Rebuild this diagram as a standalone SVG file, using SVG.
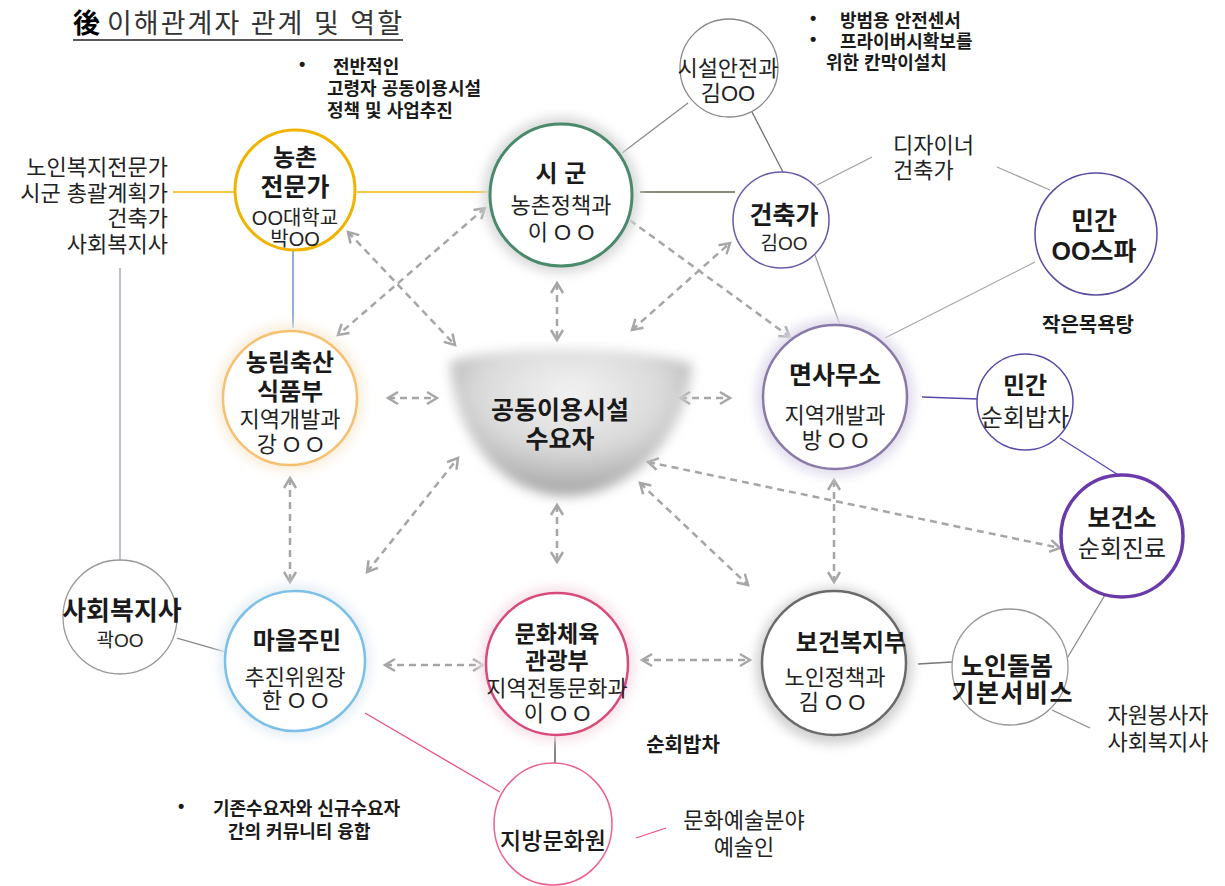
<svg xmlns="http://www.w3.org/2000/svg" width="1225" height="886" viewBox="0 0 1225 886">
<style>
text{font-family:"Liberation Sans","Noto Sans CJK KR",sans-serif;fill:#1a1a1a;text-anchor:middle}
.t{font-size:24px;font-weight:700}
.s{font-size:22px;font-weight:400;fill:#222}
.b{font-size:18px;font-weight:700;text-anchor:start}
.l{font-size:22px;fill:#222}
.node{fill:#fff}
.dash{stroke:#a6a6a6;stroke-width:2.5;stroke-dasharray:7 5;fill:none;marker-start:url(#ah);marker-end:url(#ah)}
.ln{fill:none;stroke-width:1.3}
</style>
<defs>
<marker id="ah" markerUnits="userSpaceOnUse" markerWidth="16" markerHeight="16" refX="13" refY="8" orient="auto-start-reverse">
<path d="M3,2 L13,8 L3,14" fill="none" stroke="#a6a6a6" stroke-width="2.5"/>
</marker>
<filter id="glow" x="-30%" y="-30%" width="160%" height="160%"><feGaussianBlur stdDeviation="6"/></filter>
<filter id="soft" x="-20%" y="-20%" width="140%" height="140%"><feGaussianBlur stdDeviation="6"/></filter>
<radialGradient id="bowl" cx="0.5" cy="0.3" r="0.75">
<stop offset="0" stop-color="#f2f2f2"/>
<stop offset="0.5" stop-color="#dadada"/>
<stop offset="1" stop-color="#9c9c9c"/>
</radialGradient>
</defs>
<rect width="1225" height="886" fill="#fff"/>

<g id="title">
<text x="73" y="33" style="font-size:27px;font-weight:700;text-anchor:start;fill:#000">後</text>
<text x="107" y="33" textLength="295" lengthAdjust="spacing" style="font-size:27px;text-anchor:start;fill:#333">이해관계자 관계 및 역할</text>
<line x1="73" y1="40" x2="403" y2="40" stroke="#222" stroke-width="1.5"/>
</g>
<g id="notes">
<text x="299" y="70" class="b">•</text>
<text x="333" y="73" class="b">전반적인</text>
<text x="327" y="95" class="b">고령자 공동이용시설</text>
<text x="327" y="117" class="b">정책 및 사업추진</text>
<text x="810" y="24" class="b">•</text>
<text x="840" y="27" class="b">방범용 안전센서</text>
<text x="810" y="45" class="b">•</text>
<text x="840" y="48" class="b">프라이버시확보를</text>
<text x="826" y="69" class="b">위한 칸막이설치</text>
<text x="178" y="812" class="b">•</text>
<text x="213" y="815" class="b">기존수요자와 신규수요자</text>
<text x="228" y="838" class="b">간의 커뮤니티 융합</text>
<text x="1088" y="332" class="b" style="text-anchor:middle;font-size:20px">작은목욕탕</text>
<text x="683" y="752" class="b" style="text-anchor:middle;font-size:20px">순회밥차</text>
<text x="168" y="175" class="l" style="text-anchor:end">노인복지전문가</text>
<text x="168" y="201" class="l" style="text-anchor:end">시군 총괄계획가</text>
<text x="168" y="226" class="l" style="text-anchor:end">건축가</text>
<text x="168" y="252" class="l" style="text-anchor:end">사회복지사</text>
<text x="893" y="153" class="l" style="text-anchor:start">디자이너</text>
<text x="893" y="178" class="l" style="text-anchor:start">건축가</text>
<text x="1158" y="723" class="l">자원봉사자</text>
<text x="1158" y="750" class="l">사회복지사</text>
<text x="744" y="828" class="l">문화예술분야</text>
<text x="744" y="855" class="l">예술인</text>
</g>

<g id="connectors">
<line class="ln" x1="173" y1="192" x2="234" y2="192" stroke="#f0b400" stroke-width="2"/>
<line class="ln" x1="357" y1="192" x2="490" y2="192" stroke="#f0b400" stroke-width="2"/>
<line class="ln" x1="640" y1="192" x2="735" y2="192" stroke="#5e6650" stroke-width="1.6"/>
<line class="ln" x1="622" y1="153" x2="688" y2="103" stroke="#8a8a8a"/>
<line class="ln" x1="752" y1="112" x2="783" y2="172" stroke="#707070"/>
<line class="ln" x1="817" y1="185" x2="872" y2="157" stroke="#a0a0a0"/>
<line class="ln" x1="997" y1="167" x2="1050" y2="190" stroke="#a0a0a0"/>
<line class="ln" x1="815" y1="255" x2="840" y2="325" stroke="#a0a0a0"/>
<line class="ln" x1="1035" y1="262" x2="885" y2="338" stroke="#a8a8a8"/>
<line class="ln" x1="922" y1="397" x2="978" y2="399" stroke="#5548b0" stroke-width="1.8"/>
<line class="ln" x1="1060" y1="438" x2="1120" y2="476" stroke="#5548b0" stroke-width="1.5"/>
<line class="ln" x1="1105" y1="595" x2="1066" y2="660" stroke="#8a8a8a"/>
<line class="ln" x1="918" y1="664" x2="952" y2="662" stroke="#777"/>
<line class="ln" x1="1052" y1="710" x2="1090" y2="728" stroke="#8a8a8a"/>
<line class="ln" x1="293" y1="250" x2="293" y2="328" stroke="#5a80c0" stroke-width="1.5"/>
<line class="ln" x1="120" y1="268" x2="120" y2="560" stroke="#9aa0b0"/>
<line class="ln" x1="177" y1="638" x2="226" y2="652" stroke="#8a8a8a"/>
<line class="ln" x1="365" y1="713" x2="500" y2="792" stroke="#e85080" stroke-width="1.6"/>
<line class="ln" x1="555" y1="735" x2="555" y2="767" stroke="#444"/>
<line class="ln" x1="636" y1="838" x2="666" y2="828" stroke="#e85080" stroke-width="1.6"/>

<line class="dash" x1="348" y1="232" x2="455" y2="345"/>
<line class="dash" x1="485" y1="208" x2="338" y2="335"/>
<line class="dash" x1="557" y1="283" x2="557" y2="340"/>
<line class="dash" x1="632" y1="330" x2="730" y2="243"/>
<line class="dash" x1="620" y1="213" x2="790" y2="337"/>
<line class="dash" x1="388" y1="398" x2="437" y2="398"/>
<line class="dash" x1="680" y1="398" x2="730" y2="398"/>
<line class="dash" x1="290" y1="478" x2="290" y2="582"/>
<line class="dash" x1="367" y1="572" x2="458" y2="458"/>
<line class="dash" x1="557" y1="505" x2="557" y2="562"/>
<line class="dash" x1="640" y1="483" x2="748" y2="585"/>
<line class="dash" x1="648" y1="462" x2="1060" y2="548"/>
<line class="dash" x1="834" y1="480" x2="834" y2="582"/>
<line class="dash" x1="385" y1="665" x2="483" y2="665"/>
<line class="dash" x1="642" y1="660" x2="750" y2="660"/>
</g>

<g id="n-center">
<path d="M450 362 C 500 344, 630 344, 692 364 C 690 422, 642 494, 568 496 C 498 496, 453 432, 450 362 Z" fill="url(#bowl)" filter="url(#soft)"/>
<text x="560" y="419" style="font-size:25px;font-weight:600">공동이용시설</text>
<text x="560" y="448" style="font-size:25px;font-weight:600">수요자</text>
</g>
<g id="n-nongchon">
<circle cx="295" cy="190" r="60" class="node" stroke="#f0b400" stroke-width="3"/>
<text x="295" y="166" class="t">농촌</text>
<text x="295" y="196" class="t" style="font-size:25px">전문가</text>
<text x="295" y="225" class="s" style="font-size:20px">OO대학교</text>
<text x="295" y="246" class="s" style="font-size:20px">박OO</text>
</g>
<g id="n-sigun">
<circle cx="561" cy="195" r="78" fill="#d8d8d8" filter="url(#glow)"/>
<circle cx="561" cy="195" r="71" class="node" stroke="#4a8a6a" stroke-width="3"/>
<text x="561" y="182" class="t">시 군</text>
<text x="561" y="213" class="s">농촌정책과</text>
<text x="561" y="240" class="s">이 O O</text>
</g>
<g id="n-safety">
<circle cx="729" cy="68" r="49" class="node" stroke="#888" stroke-width="1.3"/>
<text x="728" y="76" class="s">시설안전과</text>
<text x="728" y="101" class="s">김OO</text>
</g>
<g id="n-architect">
<circle cx="781" cy="220" r="48" class="node" stroke="#6a5aa8" stroke-width="1.5"/>
<text x="784" y="224" class="t" style="font-size:25px">건축가</text>
<text x="784" y="250" class="s" style="font-size:19px">김OO</text>
</g>
<g id="n-spa">
<circle cx="1096" cy="234" r="61" class="node" stroke="#5a4aa0" stroke-width="1.5"/>
<text x="1094" y="230" class="t" style="font-size:25px">민간</text>
<text x="1094" y="260" class="t" style="font-size:25px">OO스파</text>
</g>
<g id="n-myeon">
<circle cx="835" cy="397" r="79" fill="#e0dcec" filter="url(#glow)"/>
<circle cx="835" cy="397" r="72" class="node" stroke="#8a7aa8" stroke-width="2.5"/>
<text x="835" y="384" class="t" style="font-size:25px">면사무소</text>
<text x="835" y="423" class="s">지역개발과</text>
<text x="835" y="448" class="s">방 O O</text>
</g>
<g id="n-meal">
<circle cx="1025" cy="402" r="48" class="node" stroke="#5a4aa8" stroke-width="1.5"/>
<text x="1025" y="394" class="t">민간</text>
<text x="1025" y="426" class="s" style="font-size:24px">순회밥차</text>
</g>
<g id="n-health">
<circle cx="1122" cy="536" r="61" class="node" stroke="#6a3aaa" stroke-width="3.5"/>
<text x="1122" y="527" class="t" style="font-size:25px">보건소</text>
<text x="1122" y="557" class="s" style="font-size:24px">순회진료</text>
</g>
<g id="n-agri">
<circle cx="290" cy="398" r="73" fill="#f8ecd8" filter="url(#glow)"/>
<circle cx="290" cy="398" r="67" class="node" stroke="#f5c070" stroke-width="2.5"/>
<text x="290" y="371" class="t">농림축산</text>
<text x="290" y="400" class="t">식품부</text>
<text x="290" y="427" class="s">지역개발과</text>
<text x="290" y="452" class="s">강 O O</text>
</g>
<g id="n-social">
<circle cx="120" cy="617" r="57" class="node" stroke="#999" stroke-width="1.3"/>
<text x="122" y="620" class="t" style="font-size:26px">사회복지사</text>
<text x="120" y="647" class="s" style="font-size:19px">곽OO</text>
</g>
<g id="n-village">
<circle cx="295" cy="661" r="76" fill="#e4eef4" filter="url(#glow)"/>
<circle cx="295" cy="661" r="70" class="node" stroke="#7cc0e8" stroke-width="2.5"/>
<text x="297" y="649" class="t">마을주민</text>
<text x="295" y="685" class="s">추진위원장</text>
<text x="295" y="708" class="s">한 O O</text>
</g>
<g id="n-culture">
<circle cx="557" cy="664" r="77" fill="#f6e0e6" filter="url(#glow)"/>
<circle cx="557" cy="664" r="71" class="node" stroke="#d84a78" stroke-width="2.5"/>
<text x="557" y="642" class="t" style="font-size:23px">문화체육</text>
<text x="557" y="669" class="t" style="font-size:23px">관광부</text>
<text x="557" y="696" class="s">지역전통문화과</text>
<text x="557" y="721" class="s">이 O O</text>
</g>
<g id="n-welfare">
<circle cx="834" cy="666" r="78" fill="#cfcfcf" filter="url(#glow)"/>
<circle cx="834" cy="663" r="72" class="node" stroke="#6a6a6a" stroke-width="2.5"/>
<text x="851" y="651" class="t">보건복지부</text>
<text x="835" y="685" class="s">노인정책과</text>
<text x="832" y="710" class="s">김 O O</text>
</g>
<g id="n-care">
<circle cx="1010" cy="667" r="58" class="node" stroke="#999" stroke-width="1.3"/>
<text x="1007" y="675" class="t" style="font-size:25px">노인돌봄</text>
<text x="1012" y="702" class="t" style="font-size:25px" textLength="121" lengthAdjust="spacing">기본서비스</text>
</g>
<g id="n-local">
<ellipse cx="553" cy="824" rx="59" ry="61" class="node" stroke="#ee6090" stroke-width="1.5"/>
<text x="553" y="849" style="font-size:23px;font-weight:500">지방문화원</text>
</g>
</svg>
